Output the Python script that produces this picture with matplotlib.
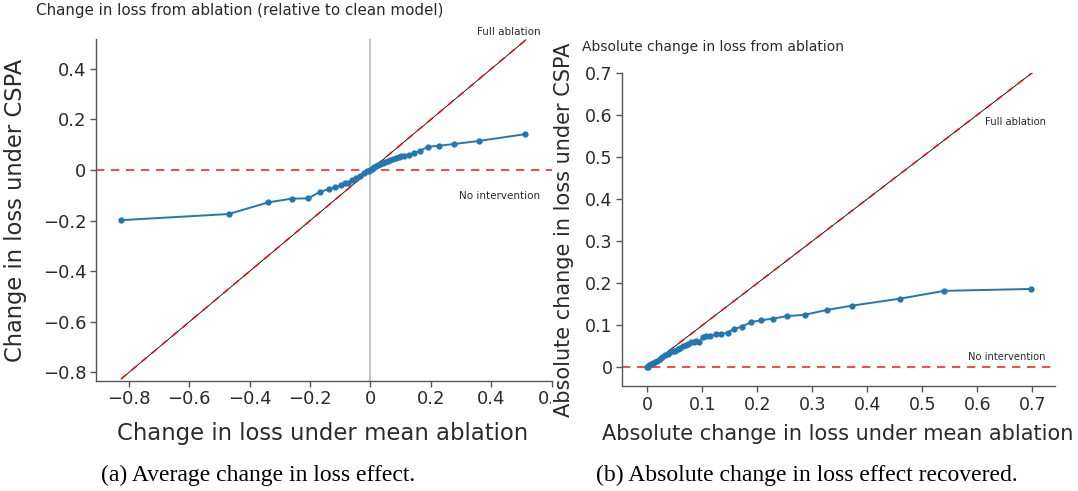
import numpy as np
import matplotlib.pyplot as plt
from matplotlib.ticker import FixedLocator, FuncFormatter
from matplotlib.transforms import Bbox

# (a) change in loss: mean ablation (x) vs CSPA (y)
mean_abl = [-0.825, -0.470, -0.339, -0.261, -0.206, -0.167, -0.139, -0.119, -0.099,
            -0.084, -0.074, -0.060, -0.048, -0.034, -0.022, -0.011, -0.004, 0.0,
            0.004, 0.007, 0.012, 0.019, 0.025, 0.031, 0.040, 0.049, 0.057, 0.066,
            0.075, 0.084, 0.093, 0.102, 0.110, 0.126, 0.143, 0.164, 0.190, 0.226,
            0.278, 0.359, 0.513]
cspa = [-0.198, -0.174, -0.128, -0.113, -0.112, -0.086, -0.076, -0.069, -0.061,
        -0.053, -0.052, -0.041, -0.033, -0.022, -0.013, -0.005, -0.002, 0.0,
        0.003, 0.009, 0.013, 0.017, 0.021, 0.024, 0.028, 0.032, 0.036, 0.040,
        0.043, 0.046, 0.050, 0.054, 0.057, 0.061, 0.066, 0.076, 0.092, 0.096,
        0.103, 0.115, 0.142]

# (b) absolute change in loss
abs_mean = [0.0, 0.002, 0.004, 0.007, 0.010, 0.014, 0.018, 0.023, 0.027, 0.032,
            0.037, 0.042, 0.047, 0.051, 0.056, 0.0605, 0.065, 0.070, 0.075, 0.080,
            0.085, 0.089, 0.094, 0.102, 0.107, 0.115, 0.125, 0.135, 0.146, 0.158,
            0.172, 0.189, 0.207, 0.228, 0.254, 0.286, 0.326, 0.373, 0.460, 0.540,
            0.698]
abs_cspa = [0.0, 0.002, 0.005, 0.008, 0.010, 0.012, 0.016, 0.021, 0.024, 0.030,
            0.033, 0.036, 0.038, 0.040, 0.043, 0.046, 0.050, 0.054, 0.056, 0.060,
            0.061, 0.063, 0.061, 0.072, 0.074, 0.075, 0.080, 0.079, 0.083, 0.091,
            0.097, 0.108, 0.112, 0.116, 0.122, 0.125, 0.1365, 0.147, 0.1635, 0.182,
            0.1865]

ticks_a_x = [-0.8, -0.6, -0.4, -0.2, 0, 0.2, 0.4, 0.6]
ticks_a_y = [-0.8, -0.6, -0.4, -0.2, 0, 0.2, 0.4]
ticks_b = [0, 0.1, 0.2, 0.3, 0.4, 0.5, 0.6, 0.7]

BLUE = '#1f77b4'
TXT = '#2a2a2a'
SPINE = '#555555'


def fmt(v, pos=None):
    s = f'{v:g}'
    return s.replace('-', '\u2212')


def style_axes(ax, size):
    for side in ['top', 'right']:
        ax.spines[side].set_visible(False)
    for side in ['left', 'bottom']:
        ax.spines[side].set_color(SPINE)
        ax.spines[side].set_linewidth(1.0)
    ax.tick_params(length=4, width=1, color=SPINE, labelsize=size, labelcolor=TXT, pad=3)
    ax.xaxis.set_major_formatter(FuncFormatter(fmt))
    ax.yaxis.set_major_formatter(FuncFormatter(fmt))


def diag(ax, lo, hi):
    ax.plot([lo, hi], [lo, hi], color='black', lw=0.6, zorder=2)
    ax.plot([lo, hi], [lo, hi], color='red', lw=1.2, dashes=(4, 4), alpha=0.85, zorder=2)


fig = plt.figure(figsize=(10.78, 4.91), dpi=100)

# ---- panel (a)
ax1 = fig.add_axes([0.0891, 0.2246, 0.4229, 0.6954])
style_axes(ax1, 13)
ax1.set_xlim(-0.909, 0.601)
ax1.set_ylim(-0.833, 0.517)
ax1.axvline(0, color='#bbbbbb', lw=1.2, zorder=1)
ax1.axhline(0, color='red', lw=1.2, dashes=(5, 4), alpha=0.85, zorder=1)
diag(ax1, -0.826, 0.515)
ax1.plot(mean_abl, cspa, color=BLUE, lw=1.4, marker='o', ms=3.5, zorder=3)
ax1.xaxis.set_major_locator(FixedLocator(ticks_a_x))
ax1.yaxis.set_major_locator(FixedLocator(ticks_a_y))
ax1.set_xlabel('Change in loss under mean ablation', fontsize=16.4, color=TXT)
ax1.set_ylabel('Change in loss under CSPA', fontsize=16.3, color=TXT)
ax1.xaxis.set_label_coords(0.496, -0.121)
ax1.yaxis.set_label_coords(-0.151, 0.5)
ax1.text(0.562, 0.544, 'Full ablation', fontsize=7.5, color=TXT, ha='right', va='center')
ax1.text(0.562, -0.103, 'No intervention', fontsize=7.5, color=TXT, ha='right', va='center')
fig.text(0.0334, 0.9776, 'Change in loss from ablation (relative to clean model)',
         fontsize=10.9, color=TXT, ha='left', va='center')

# ---- panel (b)
ax2 = fig.add_axes([0.5774, 0.2138, 0.4017, 0.6382])
style_axes(ax2, 12.5)
ax2.set_xlim(-0.045, 0.742)
ax2.set_ylim(-0.044, 0.70)
ax2.axhline(0, color='red', lw=1.2, dashes=(5, 4), alpha=0.85, zorder=1)
diag(ax2, 0, 0.7)
ax2.plot(abs_mean, abs_cspa, color=BLUE, lw=1.4, marker='o', ms=3.5, zorder=3)
ax2.xaxis.set_major_locator(FixedLocator(ticks_b))
ax2.yaxis.set_major_locator(FixedLocator(ticks_b))
ax2.set_xlabel('Absolute change in loss under mean ablation', fontsize=15, color=TXT)
ax2.set_ylabel('Absolute change in loss under CSPA', fontsize=15, color=TXT)
ax2.xaxis.set_label_coords(0.498, -0.121)
ax2.yaxis.set_label_coords(-0.112, 0.5)
ax2.text(0.725, 0.583, 'Full ablation', fontsize=7.2, color=TXT, ha='right', va='center')
ax2.text(0.724, 0.025, 'No intervention', fontsize=7.2, color=TXT, ha='right', va='center')
fig.text(0.54, 0.905, 'Absolute change in loss from ablation',
         fontsize=10, color=TXT, ha='left', va='center')

# captions
fig.text(0.2393, 0.031, '(a) Average change in loss effect.', fontsize=17,
         family='Liberation Serif', color='black', ha='center', va='center')
fig.text(0.7486, 0.031, '(b) Absolute change in loss effect recovered.', fontsize=17,
         family='Liberation Serif', color='black', ha='center', va='center')

# left panel image was cropped at its right edge
fig.canvas.draw()
clip = Bbox.from_extents(0, 0, 551, 491)
for lab in ax1.get_xticklabels():
    lab.set_clip_box(clip)
    lab.set_clip_on(True)

fig.savefig('out.png', dpi=100)
